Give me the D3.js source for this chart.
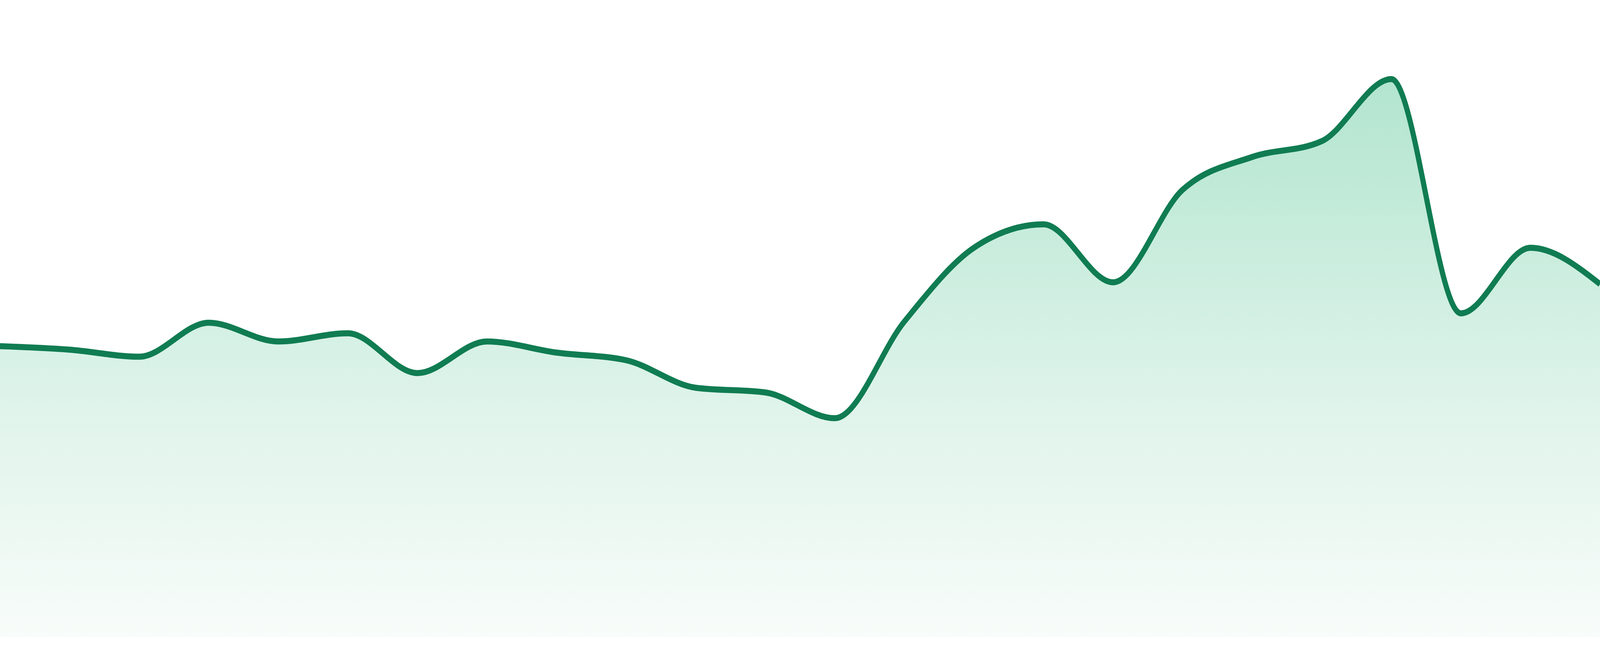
<!DOCTYPE html>
<html>
<head>
<meta charset="utf-8">
<script src="https://cdn.jsdelivr.net/npm/d3@7"></script>
<style>
  html, body { margin: 0; padding: 0; background: #ffffff; overflow: hidden; width: 100%; height: 100%; }
  svg { display: block; }
</style>
</head>
<body>
<svg id="chart"></svg>
<script>
// ---- data ----
const categories = ["1","2","3","4","5","6","7","8","9","10","11","12","13","14","15","16","17","18","19","20","21","22","23","24"];
const values = [49.7, 49.1, 47.9, 53.7, 50.5, 51.9, 45.1, 50.5, 48.6, 47.3, 42.6, 41.8, 37.4, 53.9, 66.5, 70.5, 60.6, 76.4, 82.0, 84.7, 95.3, 55.3, 66.5, 60.3];
const yDomain = [0, 100];

// ---- layout (design space 4800 x 1680, stretched to the window) ----
const W = 4800, H = 1680;
const svg = d3.select("#chart")
  .attr("viewBox", `0 0 ${W} ${H}`)
  .attr("preserveAspectRatio", "none")
  .style("width", "100vw")
  .style("height", "100vh");

const x = d3.scalePoint().domain(categories).range([0, W]);
const y = d3.scaleLinear().domain(yDomain).range([1632, 132]);

const data = categories.map((c, i) => ({ c, v: values[i] }));

const defs = svg.append("defs");
const grad = defs.append("linearGradient")
  .attr("id", "fillGrad")
  .attr("gradientUnits", "userSpaceOnUse")
  .attr("x1", 0).attr("x2", 0)
  .attr("y1", y(d3.max(values))).attr("y2", y(0));
grad.append("stop").attr("offset", "0%").attr("stop-color", "#b2e5cf");
grad.append("stop").attr("offset", "60%").attr("stop-color", "#e0f4eb");
grad.append("stop").attr("offset", "100%").attr("stop-color", "#f8fcfa");

const area = d3.area()
  .x(d => x(d.c))
  .y0(y(0))
  .y1(d => y(d.v))
  .curve(d3.curveMonotoneX);

const line = d3.line()
  .x(d => x(d.c))
  .y(d => y(d.v))
  .curve(d3.curveMonotoneX);

svg.append("path")
  .datum(data)
  .attr("d", area)
  .attr("fill", "url(#fillGrad)");

svg.append("path")
  .datum(data)
  .attr("d", line)
  .attr("fill", "none")
  .attr("stroke", "#107c52")
  .attr("stroke-width", 15.5)
  .attr("stroke-linejoin", "round");
</script>
</body>
</html>
